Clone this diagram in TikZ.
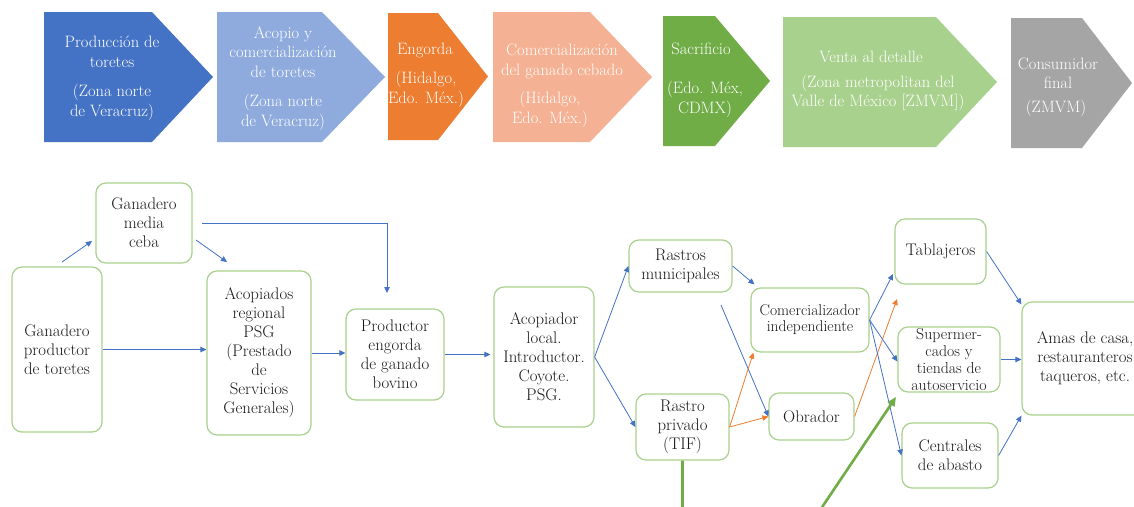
\documentclass[tikz,border=0pt]{standalone}
\usetikzlibrary{arrows.meta,calc}
\definecolor{cA}{RGB}{68,114,196}
\definecolor{cB}{RGB}{143,170,220}
\definecolor{cC}{RGB}{237,125,49}
\definecolor{cD}{RGB}{244,177,147}
\definecolor{cE}{RGB}{112,173,71}
\definecolor{cF}{RGB}{169,209,142}
\definecolor{cG}{RGB}{165,165,165}
\definecolor{boxline}{RGB}{169,209,142}
\definecolor{txt}{RGB}{25,25,25}
\begin{document}
\begin{tikzpicture}[x=1pt,y=-1pt,
  ctext/.style={text=white, align=center, inner sep=0pt, font=\fontsize{16.5}{19.5}\selectfont},
  box/.style={draw=boxline, line width=1.2pt, rounded corners=10pt, align=center, inner sep=0pt, text=txt, font=\fontsize{16.8}{19}\selectfont},
  barrow/.style={draw=cA, line width=0.8pt, -{Triangle[length=6pt,width=5.5pt]}},
  oarrow/.style={draw=cC, line width=0.8pt, -{Triangle[length=6pt,width=5.5pt]}},
  garrow/.style={draw=cE, line width=2.6pt, -{Triangle[length=9pt,width=8pt]}},
]
\useasboundingbox (0,0) rectangle (1134,506);
\clip (0,0) rectangle (1134,506);
\fill[white] (0,0) rectangle (1134,506);

% top chevrons
\fill[cA] (44,12) -- (152,12) -- (213,77) -- (152,142) -- (44,142) -- cycle;
\fill[cB] (217,12) -- (322,12) -- (385,77) -- (322,142) -- (217,142) -- cycle;
\fill[cC] (388,13) -- (438,13) -- (488,76.5) -- (438,140) -- (388,140) -- cycle;
\fill[cD] (493,12) -- (590,12) -- (652,77) -- (590,142) -- (493,142) -- cycle;
\fill[cE] (663,16) -- (715,16) -- (770,81) -- (715,146) -- (663,146) -- cycle;
\fill[cF] (783,17) -- (936,17) -- (997,82) -- (936,147) -- (783,147) -- cycle;
\fill[cG] (1011,18) -- (1082,18) -- (1132,83) -- (1082,148) -- (1011,148) -- cycle;

\node[ctext] (c1t) at (112,52) {Producción de\\toretes};
\node[ctext] (c1b) at (112,102.5) {(Zona norte\\de Veracruz)};
\node[ctext] (c2t) at (283,52) {Acopio y\\comercialización\\de toretes};
\node[ctext] (c2b) at (283,112.5) {(Zona norte\\de Veracruz)};
\node[ctext] (c3t) at (425,50) {Engorda};
\node[ctext] (c3b) at (426,89.5) {(Hidalgo,\\Edo. Méx.)};
\node[ctext] (c4t) at (562,61.5) {Comercialización\\del ganado cebado};
\node[ctext] (c4b) at (550,109.5) {(Hidalgo,\\Edo. Méx.)};
\node[ctext] (c5t) at (701,49) {Sacrificio};
\node[ctext] (c5b) at (705,99.5) {(Edo. Méx,\\CDMX)};
\node[ctext] (c6t) at (871,57) {Venta al detalle};
\node[ctext] (c6b) at (878,93) {(Zona metropolitan del\\Valle de México [ZMVM])};
\node[ctext] (c7t) at (1058,73.5) {Consumidor\\final};
\node[ctext] (c7b) at (1056,108) {(ZMVM)};

% boxes
\node[box, minimum width=90, minimum height=165] (gp) at (57,349.5) {Ganadero\\productor\\de toretes};
\node[box, minimum width=96, minimum height=80] (gm) at (144,223) {Ganadero\\media\\ceba};
\node[box, minimum width=104, minimum height=164] (ap) at (259,353) {Acopiados\\regional\\PSG\\(Prestado\\de\\Servicios\\Generales)};
\node[box, minimum width=98, minimum height=91] (pe) at (395,354.5) {Productor\\engorda\\de ganado\\bovino};
\node[box, minimum width=100, minimum height=140] (ac) at (544,357) {Acopiador\\local.\\Introductor.\\Coyote.\\PSG.};
\node[box, minimum width=103, minimum height=52] (rm) at (680.5,266) {Rastros\\municipales};
\node[box, minimum width=93, minimum height=66] (rp) at (682.5,427) {Rastro\\privado\\(TIF)};
\node[box, minimum width=118, minimum height=64, font=\fontsize{15.6}{16}\selectfont] (ci) at (810,320) {Comercializador\\independiente};
\node[box, minimum width=85, minimum height=47] (ob) at (811.5,416.5) {Obrador};
\node[box, minimum width=91, minimum height=65] (tb) at (940.5,251.5) {Tablajeros};
\node[box, minimum width=102, minimum height=65, font=\fontsize{15.8}{17.3}\selectfont] (sm) at (949,359.5) {Supermer-\\cados y\\tiendas de\\autoservicio};
\node[box, minimum width=96, minimum height=65] (ca) at (950,455.5) {Centrales\\de abasto};
\node[box, minimum width=126, minimum height=113] (am) at (1085,358.5) {Amas de casa,\\restauranteros\\taqueros, etc.};

% free ends
\coordinate (a1s) at (62,262);
\coordinate (a1e) at (92,241);
\coordinate (a2s) at (196,240);
\coordinate (a2e) at (227,262);
\coordinate (a3s) at (202,223);
\coordinate (a3k) at (387,223);
\coordinate (a3e) at (387,293);
\coordinate (a4s) at (721,305);
\coordinate (a5e) at (897,299);
\coordinate (a6e) at (893,274);
\coordinate (g1) at (682.5,540);
\coordinate (g2) at (800,540);
\coordinate (g3) at (896,397);

% connectors
\draw[barrow] (a1s) -- (a1e);
\draw[barrow] (a2s) -- (a2e);
\draw[barrow] (a3s) -- (a3k) -- (a3e);
\draw[barrow] (gp.east) -- (gp.east -| ap.west);
\draw[barrow] (ap.east) -- (ap.east -| pe.west);
\draw[barrow] (pe.east) -- ([xshift=-3pt]pe.east -| ac.west);
\draw[barrow] (ac.east) -- (rm.west);
\draw[barrow] (ac.east) -- (rp.west);
\draw[barrow] (rm.east) -- ([xshift=4pt,yshift=3pt]ci.north west);
\draw[barrow] (a4s) -- (ob.west);
\draw[oarrow] (rp.east) -- ([xshift=3pt]ci.south west);
\draw[oarrow] (rp.east) -- (ob.west);
\draw[oarrow] (ob.east) -- (a5e);
\draw[barrow] (ci.east) -- (a6e);
\draw[barrow] (ci.east) -- ([yshift=-2pt]sm.west);
\draw[barrow] (ci.east) -- (ca.west);
\draw[barrow] (tb.east) -- ([yshift=-3pt]am.north west);
\draw[barrow] (sm.east) -- (sm.east -| am.west);
\draw[barrow] (ca.east) -- (am.south west);
\draw[garrow] (rp.south) -- (g1) -- (g2) -- (g3);
\end{tikzpicture}
\end{document}
